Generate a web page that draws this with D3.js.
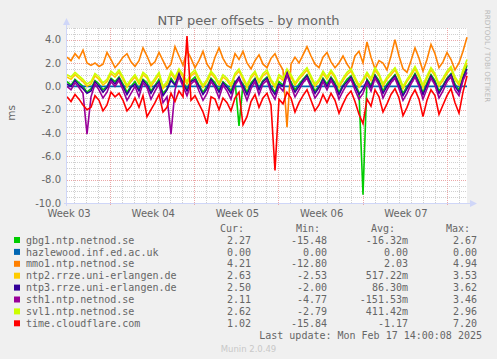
<!DOCTYPE html>
<html><head><meta charset="utf-8">
<script src="https://cdn.jsdelivr.net/npm/d3@7"></script>
<style>
body{margin:0;background:#F0F0F0;}
svg{display:block;}
</style>
</head><body>
<svg id="chart" width="497" height="359"></svg>
<script>
// ---------------- DATA ----------------
const chartTitle = "NTP peer offsets - by month";
const yAxisLabel = "ms";
const yTickValues = [4, 2, 0, -2, -4, -6, -8, -10];
const weekLabels = ["Week 03", "Week 04", "Week 05", "Week 06", "Week 07"];
const weekLabelDays = [0.17, 7.17, 14.17, 21.17, 28.17];
const weekStartDays = [3.575, 10.575, 17.575, 24.575, 31.575];
const daySpan = 33.25;

const seriesNames = ["gbg1.ntp.netnod.se", "hazlewood.inf.ed.ac.uk", "mmo1.ntp.netnod.se",
  "ntp2.rrze.uni-erlangen.de", "ntp3.rrze.uni-erlangen.de", "sth1.ntp.netnod.se",
  "svl1.ntp.netnod.se", "time.cloudflare.com"];
const seriesColors = ["#00CC00", "#0066B3", "#FF8000", "#FFCC00", "#330099", "#990099", "#CCFF00", "#FF0000"];
const curValues = ["2.27", "0.00", "4.21", "2.63", "2.50", "2.11", "2.62", "1.02"];
const minValues = ["-15.48", "0.00", "-12.80", "-2.53", "-2.00", "-4.77", "-2.79", "-15.84"];
const avgValues = ["-16.32m", "0.00 ", "2.03 ", "517.22m", "86.30m", "-151.53m", "411.42m", "-1.17 "];
const maxValues = ["2.67", "0.00", "4.94", "3.53", "3.62", "3.46", "2.96", "7.20"];
const lastUpdate = "Last update: Mon Feb 17 14:00:08 2025";

// samples every ~8 hours (101 points across the month)
const gbg1 = [
  0.4, 0.1, 0.6, 0.3, 0.0, -0.5, -0.2, 0.5, 0.2, -0.3,
  0.0, 0.7, 0.4, 0.8, 0.2, -0.5, 0.0, 0.4, -0.2, 0.6,
  0.3, -0.4, 0.1, 0.6, -0.6, -0.2, 0.7, 0.2, 0.9, 0.4,
  -0.2, 0.5, 0.8, 0.1, -0.5, 0.0, 0.7, 0.3, -0.3, 0.4,
  0.1, -0.4, 0.5, -3.4, 0.2, -0.5, 0.3, 0.7, -0.1, 0.5,
  0.8, 0.0, -0.5, 0.4, 0.1, 0.9, 0.4, -0.3, 0.2, 0.6,
  1.0, 0.3, -0.4, 0.0, 0.7, 0.2, 0.8, 0.3, -0.5, 0.1,
  0.6, 0.9, 0.2, -0.5, -9.3, 0.6, 0.1, 1.0, 0.5, -0.4,
  0.2, 0.6, 1.0, 0.3, -0.6, 0.0, 0.5, 1.1, 0.4, -0.5,
  0.3, 1.0, 0.5, -0.4, 0.1, 0.7, 1.1, 0.2, -0.3, 0.8,
  1.8];
const hazlewood = [
  0, 0, 0, 0, 0, 0, 0, 0, 0, 0,
  0, 0, 0, 0, 0, 0, 0, 0, 0, 0,
  0, 0, 0, 0, 0, 0, 0, 0, 0, 0,
  0, 0, 0, 0, 0, 0, 0, 0, 0, 0,
  0, 0, 0, 0, 0, 0, 0, 0, 0, 0,
  0, 0, 0, 0, 0, 0, 0, 0, 0, 0,
  0, 0, 0, 0, 0, 0, 0, 0, 0, 0,
  0, 0, 0, 0, 0, 0, 0, 0, 0, 0,
  0, 0, 0, 0, 0, 0, 0, 0, 0, 0,
  0, 0, 0, 0, 0, 0, 0, 0, 0, 0,
  0];
const mmo1 = [
  2.5, 2.2, 2.8, 2.4, 3.1, 2.0, 1.8, 2.0, 1.7, 1.9,
  2.9, 2.3, 1.6, 2.0, 2.5, 2.8, 2.1, 1.7, 2.2, 3.3,
  2.6, 1.8, 2.1, 2.9, 2.2, 1.5, 1.9, 3.4, 2.6, 1.8,
  3.1, 2.4, 1.6, 2.2, 3.0, 1.9, 1.4, 2.5, 3.3, 2.4,
  1.8, 1.6, 2.8, 2.3, 3.0, 2.0, 1.5, 2.2, 2.7, 1.9,
  1.6, 2.4, 2.8, 2.0, 1.4, -3.5, 1.9, 2.5, 2.0, 2.7,
  3.4, 2.6, 1.9, 1.6, 2.5, 2.9, 2.1, 1.6, 2.0, 2.6,
  1.9, 1.4, 2.6, 3.0, 2.0, 3.8, 2.5, 1.5, 2.2, 2.0,
  1.4, 2.6, 4.0, 2.6, 1.5, 1.2, 2.2, 3.3, 2.4, 1.3,
  2.3, 3.6, 2.8, 1.6, 2.1, 2.9, 2.3, 1.4, 2.0, 3.0,
  4.2];
const ntp2 = [
  0.8, 0.6, 1.0, 0.7, 0.4, 0.0, 0.2, 0.9, 0.6, 0.1,
  0.4, 1.1, 0.8, 1.2, 0.6, -0.1, 0.4, 0.8, 0.2, 1.0,
  0.7, 0.0, 0.5, 1.0, -0.2, 0.2, 1.1, 0.6, 1.3, 0.8,
  0.2, 0.9, 1.2, 0.5, -0.1, 0.4, 1.1, 0.7, 0.1, 0.8,
  0.5, 0.0, 0.9, 1.3, 0.6, -0.1, 0.7, 1.1, 0.3, 0.9,
  1.2, 0.4, -0.1, 0.8, 0.5, 1.3, 0.8, 0.1, 0.6, 1.0,
  1.4, 0.7, 0.0, 0.4, 1.1, 0.6, 1.2, 0.7, -0.1, 0.5,
  1.0, 1.3, 0.6, -0.1, 0.4, 1.0, 0.5, 1.4, 0.9, 0.0,
  0.6, 1.0, 1.4, 0.7, -0.2, 0.4, 0.9, 1.5, 0.8, -0.1,
  0.7, 1.4, 0.9, 0.0, 0.5, 1.1, 1.5, 0.6, 0.1, 1.2,
  2.0];
const ntp3 = [
  0.2, 0.0, 0.5, 0.1, -0.2, -0.6, -0.4, 0.4, 0.0, -0.5,
  -0.1, 0.6, 0.2, 0.7, 0.0, -0.7, -0.1, 0.2, -0.4, 0.5,
  0.1, -0.6, 0.0, 0.4, -0.8, -0.3, 0.5, 0.1, 1.1, 0.2,
  -0.4, 0.4, 0.6, 0.0, -0.7, -0.2, 0.6, 0.1, -0.5, 0.3,
  -0.1, -0.6, 0.3, 0.8, 0.0, -0.7, 0.1, 0.6, -0.3, 0.4,
  0.7, -0.2, -0.7, 0.2, 0.0, 1.2, 0.2, -0.5, 0.0, 0.5,
  0.9, 0.1, -0.6, -0.1, 0.6, 0.0, 0.7, 0.1, -0.7, 0.0,
  0.4, 0.8, 0.0, -0.7, -0.2, 0.5, -0.1, 0.9, 0.3, -0.6,
  0.0, 0.5, 0.9, 0.1, -0.8, -0.2, 0.4, 1.0, 0.2, -0.7,
  0.1, 0.9, 0.3, -0.6, 0.0, 0.6, 1.0, 0.0, -0.5, 0.7,
  1.5];
const sth1 = [
  0.0, -0.3, 0.3, -0.1, -0.6, -4.1, -0.9, 0.2, -0.3, -1.0,
  -0.5, 0.4, 0.0, 0.5, -0.3, -1.2, -0.6, 0.0, -0.9, 0.3,
  -0.1, -1.1, -0.4, 0.2, -1.4, -0.9, -4.1, -0.3, 0.8, 0.0,
  -0.8, 0.2, 0.5, -0.4, -1.2, -0.6, 0.4, -0.1, -1.0, 0.1,
  -0.4, -1.1, 0.1, 0.6, -0.3, -1.2, -0.2, 0.4, -0.7, 0.2,
  0.5, -0.5, -1.1, 0.0, -0.4, 1.0, 0.0, -0.9, -0.3, 0.3,
  0.7, -0.1, -1.0, -0.5, 0.4, -0.3, 0.5, -0.1, -1.1, -0.4,
  0.2, 0.6, -0.3, -1.1, -0.6, 0.3, -0.4, 0.7, 0.1, -1.0,
  -0.3, 0.3, 0.7, -0.2, -1.2, -0.6, 0.2, 0.8, 0.0, -1.1,
  -0.2, 0.7, 0.1, -1.0, -0.4, 0.4, 0.8, -0.3, -0.8, 0.5,
  1.2];
const svl1 = [
  1.0, 0.8, 1.2, 0.9, 0.6, 0.2, 0.4, 1.1, 0.8, 0.3,
  0.6, 1.3, 1.0, 1.4, 0.8, 0.1, 0.6, 1.0, 0.4, 1.2,
  0.9, 0.2, 0.7, 1.2, 0.0, 0.4, 1.3, 0.8, 1.5, 1.0,
  0.4, 1.1, 1.4, 0.7, 0.1, 0.6, 1.3, 0.9, 0.3, 1.0,
  0.7, 0.2, 1.1, 1.5, 0.8, 0.1, 0.9, 1.3, 0.5, 1.1,
  1.4, 0.6, 0.1, 1.0, 0.7, 1.5, 1.0, 0.3, 0.8, 1.2,
  1.6, 0.9, 0.2, 0.6, 1.3, 0.8, 1.4, 0.9, 0.1, 0.7,
  1.2, 1.5, 0.8, 0.1, 0.6, 1.2, 0.7, 1.6, 1.1, 0.2,
  0.8, 1.2, 1.6, 0.9, 0.0, 0.6, 1.1, 1.7, 1.0, 0.1,
  0.9, 1.6, 1.1, 0.2, 0.7, 1.3, 1.7, 0.8, 0.3, 1.4,
  2.3];
const cloudflare = [
  -0.9, -1.3, -0.7, -1.1, -1.6, -2.0, -1.8, -0.8, -1.2, -2.1,
  -1.6, -0.5, -0.9, -0.6, -1.2, -2.1, -1.7, -1.0, -1.8, -0.8,
  -2.6, -2.0, -1.4, -0.7, -2.2, -1.8, -0.6, -1.3, -0.4, -0.9,
  4.3, -1.2, -0.8, -1.5, -2.2, -3.2, -0.9, -1.1, -2.0, -1.0,
  -1.4, -2.1, -1.0, -0.5, -3.3, -2.6, -1.3, -0.7, -1.8, -1.0,
  -0.6, -1.6, -7.2, -1.1, -1.5, -0.5, -1.0, -2.2, -1.4, -0.8,
  -0.3, -1.2, -2.1, -1.6, -0.7, -1.4, -0.6, -1.2, -2.3, -1.5,
  -0.8, -0.4, -1.3, -2.4, -3.2, -1.1, -1.7, -0.3, -0.9, -2.2,
  -1.5, -0.7, -0.2, -1.0, -2.5, -1.8, -0.9, -0.3, -1.1, -2.6,
  -1.2, -0.3, -0.8, -2.4, -1.6, -0.8, -0.2, -1.4, -2.3, -0.5,
  0.9];
const seriesValues = [gbg1, hazlewood, mmo1, ntp2, ntp3, sth1, svl1, cloudflare];

// ---------------- DRAW ----------------
const svg = d3.select("#chart");
const plotL = 67, plotR = 467, plotT = 28, plotB = 203;
const x = d3.scaleLinear().domain([0, daySpan]).range([plotL, plotR]);
const y = d3.scaleLinear().domain([-10, 5]).range([plotB, plotT]);
const fontSans = "'DejaVu Sans', sans-serif";
const fontMono = "'DejaVu Sans Mono', monospace";
const textCol = "#666666";

svg.append("rect").attr("width", 497).attr("height", 359).attr("fill", "#F0F0F0");
svg.append("rect").attr("x", plotL).attr("y", plotT).attr("width", plotR - plotL).attr("height", plotB - plotT).attr("fill", "#FFFFFF");

// grid
const g = svg.append("g").attr("shape-rendering", "crispEdges");
const minorY = d3.range(-10, 5.01, 0.5).filter(v => Math.abs(v % 2) > 0.01);
g.selectAll(".hmin").data(minorY).join("line")
  .attr("x1", plotL).attr("x2", plotR)
  .attr("y1", d => Math.round(y(d)) + 0.5).attr("y2", d => Math.round(y(d)) + 0.5)
  .attr("stroke", "#D0D0D0").attr("stroke-dasharray", "1,1");
const firstMinorDay = weekStartDays[0] - Math.floor(weekStartDays[0]);
const minorX = d3.range(firstMinorDay, daySpan, 1).filter(d => !weekStartDays.some(w => Math.abs(w - d) < 0.01));
g.selectAll(".vmin").data(minorX).join("line")
  .attr("y1", plotT).attr("y2", plotB)
  .attr("x1", d => Math.round(x(d)) + 0.5).attr("x2", d => Math.round(x(d)) + 0.5)
  .attr("stroke", "#D0D0D0").attr("stroke-dasharray", "1,1");
g.selectAll(".hmaj").data(yTickValues).join("line")
  .attr("x1", plotL).attr("x2", plotR)
  .attr("y1", d => Math.round(y(d)) + 0.5).attr("y2", d => Math.round(y(d)) + 0.5)
  .attr("stroke", "#EBA8A8").attr("stroke-dasharray", "1,1");
g.selectAll(".vmaj").data(weekStartDays).join("line")
  .attr("y1", plotT).attr("y2", plotB + 3)
  .attr("x1", d => Math.round(x(d)) + 0.5).attr("x2", d => Math.round(x(d)) + 0.5)
  .attr("stroke", "#EBA8A8").attr("stroke-dasharray", "1,1");

// series
const times = d3.range(gbg1.length).map(i => i * daySpan / (gbg1.length - 1));
const line = d3.line().x((d, i) => x(times[i])).y(d => y(d));
svg.append("g").selectAll("path").data(seriesValues).join("path")
  .attr("d", d => line(d))
  .attr("fill", "none")
  .attr("stroke", (d, i) => seriesColors[i])
  .attr("stroke-width", 1.6)
  .attr("stroke-linejoin", "miter");

// axes
const axisCol = "#CFD6F8";
svg.append("line").attr("x1", plotL - 0.5).attr("x2", plotL - 0.5).attr("y1", plotB + 3).attr("y2", plotT - 4)
  .attr("stroke", axisCol);
svg.append("line").attr("x1", plotL - 3).attr("x2", plotR + 4).attr("y1", plotB + 0.5).attr("y2", plotB + 0.5)
  .attr("stroke", axisCol);
svg.append("path").attr("d", `M${plotL - 4},${plotT - 3} L${plotL - 0.5},${plotT - 10} L${plotL + 3},${plotT - 3} Z`).attr("fill", axisCol);
svg.append("path").attr("d", `M${plotR + 3},${plotB - 3} L${plotR + 10},${plotB + 0.5} L${plotR + 3},${plotB + 4} Z`).attr("fill", axisCol);

// y tick labels
svg.append("g").selectAll("text").data(yTickValues).join("text")
  .attr("x", 61).attr("y", d => y(d) + 3.6)
  .attr("text-anchor", "end").attr("font-family", fontSans).attr("font-size", 10).attr("fill", textCol)
  .text(d => d.toFixed(1));
// x labels
svg.append("g").selectAll("text").data(weekLabels).join("text")
  .attr("x", (d, i) => x(weekLabelDays[i])).attr("y", 216.5)
  .attr("text-anchor", "middle").attr("font-family", fontSans).attr("font-size", 10).attr("fill", textCol)
  .text(d => d);

// title & labels
svg.append("text").attr("x", 248.5).attr("y", 25).attr("text-anchor", "middle")
  .attr("font-family", fontSans).attr("font-size", 13).attr("fill", textCol).text(chartTitle);
svg.append("text").attr("transform", "translate(15,113) rotate(-90)").attr("text-anchor", "middle")
  .attr("font-family", fontSans).attr("font-size", 10.5).attr("fill", textCol).text(yAxisLabel);
svg.append("text").attr("transform", "translate(485,56) rotate(90)").attr("text-anchor", "middle")
  .attr("font-family", fontSans).attr("font-size", 7.2).attr("fill", "#BBBBBB").text("RRDTOOL / TOBI OETIKER");

// legend
const leg = svg.append("g").attr("font-family", fontMono).attr("font-size", 10).attr("fill", textCol).style("white-space", "pre");
const headers = [["Cur:", 244], ["Min:", 320], ["Avg:", 395], ["Max:", 470]];
leg.selectAll(".hdr").data(headers).join("text")
  .attr("x", d => d[1]).attr("y", 231.8).attr("text-anchor", "end").text(d => d[0]);
const rowY = i => 240 + i * 11.9;
seriesNames.forEach((name, i) => {
  const cy = rowY(i);
  leg.append("rect").attr("x", 14).attr("y", cy - 3).attr("width", 6).attr("height", 6).attr("fill", seriesColors[i]);
  leg.append("text").attr("x", 26).attr("y", cy + 3.6).text(name);
  leg.append("text").attr("x", 251).attr("y", cy + 3.6).attr("text-anchor", "end").text(curValues[i]);
  leg.append("text").attr("x", 327).attr("y", cy + 3.6).attr("text-anchor", "end").text(minValues[i]);
  leg.append("text").attr("x", 408).attr("y", cy + 3.6).attr("text-anchor", "end").text(avgValues[i]);
  leg.append("text").attr("x", 477).attr("y", cy + 3.6).attr("text-anchor", "end").text(maxValues[i]);
});
leg.append("text").attr("x", 482).attr("y", 339.3).attr("text-anchor", "end").text(lastUpdate);
svg.append("text").attr("x", 248.5).attr("y", 351.5).attr("text-anchor", "middle")
  .attr("font-family", fontSans).attr("font-size", 8.5).attr("fill", "#C8C8C8").text("Munin 2.0.49");
</script>
</body></html>
